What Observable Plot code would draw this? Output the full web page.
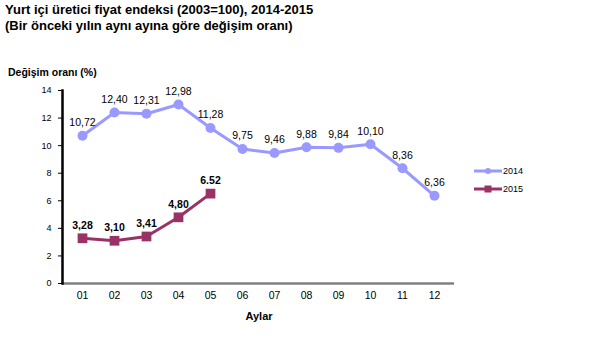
<!DOCTYPE html>
<html><head><meta charset="utf-8">
<script src="https://cdn.jsdelivr.net/npm/d3@7"></script>
<script src="https://cdn.jsdelivr.net/npm/@observablehq/plot@0.6"></script>
<style>
body{margin:0;background:#fff;font-family:"Liberation Sans",Arial,sans-serif;}
#wrap{position:relative;width:609px;height:359px;overflow:hidden;}
#wrap svg{position:absolute;left:0;top:0;}
.t{position:absolute;font-weight:bold;color:#000;white-space:nowrap;}
.lg{position:absolute;font-size:9px;display:flex;align-items:center;}
</style></head>
<body><div id="wrap"></div>
<script>
const months = ["01","02","03","04","05","06","07","08","09","10","11","12"];
const values2014 = [10.72,12.40,12.31,12.98,11.28,9.75,9.46,9.88,9.84,10.10,8.36,6.36];
const months2015 = ["01","02","03","04","05"];
const values2015 = [3.28,3.10,3.41,4.80,6.52];
const labels2014 = ["10,72","12,40","12,31","12,98","11,28","9,75","9,46","9,88","9,84","10,10","8,36","6,36"];
const labels2015 = ["3,28","3,10","3,41","4,80","6.52"];
const yTicks = [0,2,4,6,8,10,12,14];

const d14 = months.map((m,i)=>({m, v:values2014[i], l:labels2014[i]}));
const d15 = months2015.map((m,i)=>({m, v:values2015[i], l:labels2015[i]}));
const c14 = "#9999ff", c15 = "#993366";

const chart = Plot.plot({
  width:609, height:359,
  marginLeft:62, marginRight:155, marginTop:90, marginBottom:76,
  style:{fontFamily:"Liberation Sans, Arial, sans-serif", fontSize:"10px", background:"transparent", color:"#000"},
  x:{type:"point", domain:months, padding:0.5},
  y:{domain:[0,14]},
  marks:[
    Plot.axisY({ticks:yTicks, tickSize:4, tickPadding:7, tickFormat:d=>String(d), label:null, fontSize:9}),
    Plot.axisX({tickSize:0, tickPadding:8, label:null, fontSize:10.5}),
    Plot.ruleY([0],{stroke:"#808080", strokeWidth:2.5}),
    Plot.frame({anchor:"left", stroke:"#000", strokeWidth:2.5}),
    Plot.line(d14,{x:"m", y:"v", stroke:c14, strokeWidth:3}),
    Plot.dot(d14,{x:"m", y:"v", fill:c14, r:5, symbol:"circle"}),
    Plot.line(d15,{x:"m", y:"v", stroke:c15, strokeWidth:3}),
    Plot.dot(d15,{x:"m", y:"v", fill:c15, r:5.5, symbol:"square"}),
    Plot.text(d14,{x:"m", y:"v", text:"l", dy:-13, fontSize:10.5}),
    Plot.text(d15,{x:"m", y:"v", text:"l", dy:-13, fontSize:10.5, fontWeight:"bold"})
  ]
});
const wrap = document.getElementById("wrap");
wrap.appendChild(chart);

function addText(txt, x, y, size){
  const d=document.createElement("div"); d.className="t"; d.textContent=txt;
  d.style.left=x+"px"; d.style.top=y+"px"; d.style.fontSize=size+"px"; wrap.appendChild(d); return d;
}
addText("Yurt içi üretici fiyat endeksi (2003=100), 2014-2015", 5, 2, 13);
addText("(Bir önceki yılın aynı ayına göre değişim oranı)", 5, 18, 13);
addText("Değişim oranı (%)", 8, 66, 10.5);
const ay = addText("Aylar", 259, 310, 11); ay.style.transform="translateX(-50%)";

function legend(label, color, sym, y){
  const d=document.createElement("div"); d.className="lg";
  d.style.left="474px"; d.style.top=(y-7)+"px";
  const marker = sym==="circle" ? `<circle cx="14" cy="7" r="3" fill="${color}"/>` : `<rect x="10.5" y="3.5" width="7" height="7" fill="${color}"/>`;
  d.innerHTML=`<svg width="28" height="14" style="position:static"><line x1="0" x2="28" y1="7" y2="7" stroke="${color}" stroke-width="3"/>${marker}</svg><span style="margin-left:1px">${label}</span>`;
  wrap.appendChild(d);
}
legend("2014", c14, "circle", 171);
legend("2015", c15, "square", 189);
</script></body></html>
